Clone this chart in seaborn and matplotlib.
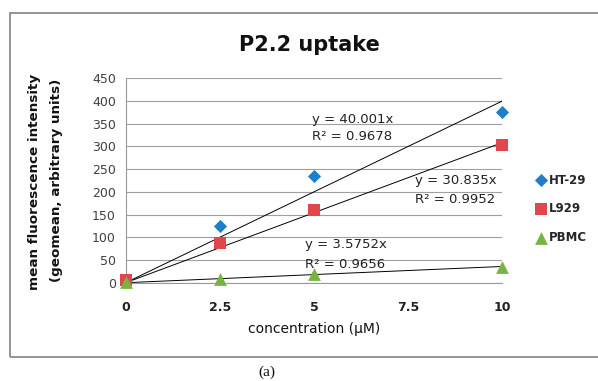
import matplotlib
matplotlib.use("Agg")
import matplotlib.pyplot as plt
import seaborn as sns
import pandas as pd
import numpy as np
from matplotlib.patches import Rectangle

# ---- data ----
concentration = [0, 2.5, 5, 10]
ht29 = [5, 125, 234, 375]
l929 = [5, 88, 160, 303]
pbmc = [2, 9, 20, 34]
series_names = ["HT-29", "L929", "PBMC"]
slopes = [40.001, 30.835, 3.5752]
r2 = [0.9678, 0.9952, 0.9656]
x_ticks = [0, 2.5, 5, 7.5, 10]
x_tick_labels = ["0", "2.5", "5", "7.5", "10"]
y_ticks = [0, 50, 100, 150, 200, 250, 300, 350, 400, 450]

colors = {"HT-29": "#1e7ec8", "L929": "#e0474c", "PBMC": "#79b443"}
markers = {"HT-29": "D", "L929": "s", "PBMC": "^"}
sizes_m = {"HT-29": 45, "L929": 80, "PBMC": 85}

df = pd.DataFrame({
    "conc": concentration * 3,
    "value": ht29 + l929 + pbmc,
    "cell": sum([[n] * len(concentration) for n in series_names], []),
})

sns.set_theme(style="white")
plt.rcParams["font.family"] = ["DejaVu Sans"]

W, H = 598, 381
fig = plt.figure(figsize=(W / 100, H / 100), dpi=100)
ax = fig.add_axes([125.7 / W, 1 - 282.7 / H, (502.3 - 125.7) / W, (282.7 - 78.3) / H])

# chart border
fig.patches.append(Rectangle((10 / W, 1 - 356.5 / H), 600 / W, (356.5 - 12.5) / H,
                             transform=fig.transFigure, fill=False,
                             edgecolor="#8c8c8c", linewidth=1.3, zorder=0))

# trendlines
xs = np.array([0, 10])
for s in slopes:
    sns.lineplot(x=xs, y=s * xs, ax=ax, color="black", linewidth=0.7, zorder=2)

for name in series_names:
    sub = df[df["cell"] == name]
    sns.scatterplot(data=sub, x="conc", y="value", ax=ax, color=colors[name],
                    marker=markers[name], s=sizes_m[name], linewidth=0, zorder=3,
                    label=name, clip_on=False)

# equations
eq_pos = [(4.94, 359, 321), (7.68, 226, 184), (4.76, 83, 41)]
for (x0, y1, y2), s, r in zip(eq_pos, slopes, r2):
    ax.text(x0, y1, f"y = {s}x", fontsize=9.5, color="#222222", va="center", ha="left")
    ax.text(x0, y2, f"R² = {r}", fontsize=9.5, color="#222222", va="center", ha="left")

ax.set_xlim(0, 10)
ax.set_ylim(0, 450)
ax.set_xticks(x_ticks)
ax.set_xticklabels(x_tick_labels, fontweight="bold", fontsize=9, color="#222222")
ax.set_yticks(y_ticks)
ax.tick_params(axis="y", labelsize=9, labelcolor="#404040", length=4, color="#999999", width=0.8, pad=3)
ax.tick_params(axis="x", length=4, color="#999999", width=0.8, pad=9)
ax.grid(axis="y", color="#a0a0a0", linewidth=0.8)
ax.grid(axis="x", visible=False)
ax.set_axisbelow(True)
for sp in ["top", "right"]:
    ax.spines[sp].set_visible(False)
for sp in ["left", "bottom"]:
    ax.spines[sp].set_color("#999999")
    ax.spines[sp].set_linewidth(0.8)

ax.set_xlabel("")
ax.set_ylabel("")
fig.text(314 / W, 1 - 329 / H, "concentration (μM)", fontsize=10, color="#111111",
         ha="center", va="center")
fig.text(35 / W, 1 - 182 / H, "mean fluorescence intensity", fontsize=9.7,
         fontweight="bold", color="#111111", rotation=90, ha="center", va="center")
fig.text(57 / W, 1 - 180 / H, "(geomean, arbitrary units)", fontsize=9.7,
         fontweight="bold", color="#111111", rotation=90, ha="center", va="center")
fig.text(309 / W, 1 - 45 / H, "P2.2 uptake", fontsize=15, fontweight="bold",
         color="#111111", ha="center", va="center")

leg = ax.legend(loc="center left", bbox_to_anchor=(534 / W, 1 - 209 / H),
                bbox_transform=fig.transFigure, frameon=False,
                handletextpad=0.1, labelspacing=1.35, prop={"weight": "bold", "size": 8.5},
                handlelength=1.2, borderaxespad=0, borderpad=0)

fig.text(267 / W, 1 - 372 / H, "(a)", fontsize=11, family="Liberation Serif",
         ha="center", va="center", color="#111111")

fig.savefig("out.png", dpi=100)
